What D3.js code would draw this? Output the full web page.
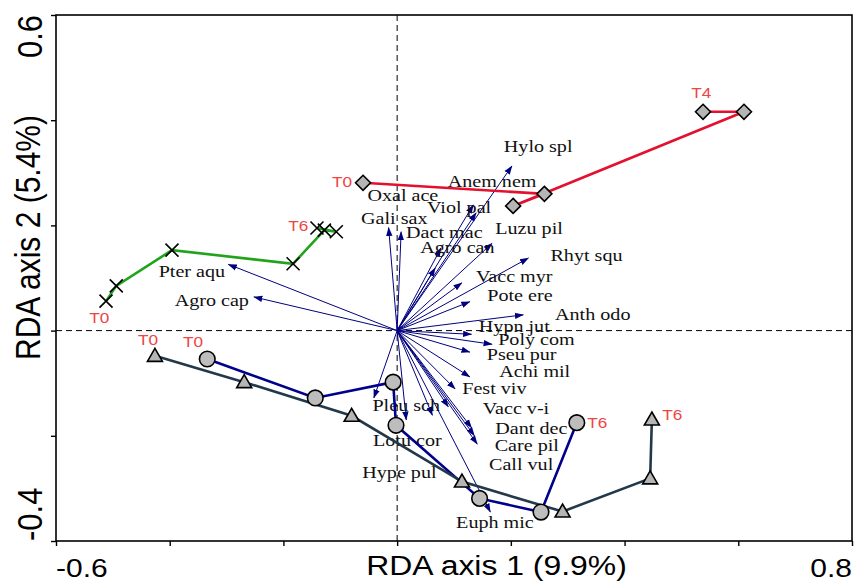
<!DOCTYPE html>
<html>
<head>
<meta charset="utf-8">
<script src="https://cdn.jsdelivr.net/npm/d3@7"></script>
<style>
  html, body { margin: 0; padding: 0; background: #ffffff; }
  svg { display: block; }
</style>
</head>
<body>
<div id="chart"></div>
<script>
// RDA scores (axis 1, axis 2)
const redTrack = [[-0.060, 0.281], [0.259, 0.260], [0.204, 0.237], [0.610, 0.416], [0.538, 0.416]];
const greenTrack = [[-0.512, 0.056], [-0.494, 0.085], [-0.396, 0.153], [-0.183, 0.127], [-0.128, 0.191], [-0.107, 0.188], [-0.141, 0.195]];
const blueTrack = [[-0.334, -0.054], [-0.144, -0.128], [-0.007, -0.098], [-0.002, -0.180], [0.145, -0.319], [0.253, -0.345], [0.316, -0.175]];
const slateTrack = [[-0.426, -0.048], [-0.269, -0.098], [-0.080, -0.162], [0.114, -0.287], [0.291, -0.344], [0.445, -0.281], [0.448, -0.169]];

// species arrows: tip (x, y) and label centre (lx, ly)
const speciesNames = ["Hylo spl", "Anem nem", "Viol pal", "Oxal ace", "Agro can", "Gali sax", "Dact mac", "Luzu pil",
  "Rhyt squ", "Vacc myr", "Pote ere", "Anth odo", "Hypn jut", "Poly com", "Pseu pur", "Achi mil", "Fest viv",
  "Vacc v-i", "Dant dec", "Care pil", "Call vul", "Euph mic", "Hype pul", "Lotu cor", "Pleu sch", "Pter aqu", "Agro cap"];
const speciesTips = [[0.202, 0.313], [0.134, 0.239], [0.139, 0.224], [0.077, 0.157], [0.067, 0.119], [-0.015, 0.196],
  [0.007, 0.188], [0.167, 0.166], [0.231, 0.138], [0.114, 0.091], [0.128, 0.055], [0.222, 0.030], [0.131, -0.007],
  [0.167, -0.026], [0.128, -0.041], [0.128, -0.088], [0.102, -0.111], [0.090, -0.145], [0.131, -0.185], [0.141, -0.216],
  [0.136, -0.200], [0.164, -0.345], [0.062, -0.161], [0.016, -0.170], [-0.041, -0.128], [-0.297, 0.126], [-0.252, 0.064]];
const speciesLabelPos = [[0.248, 0.351], [0.167, 0.284], [0.109, 0.235], [0.010, 0.258], [0.106, 0.159], [-0.005, 0.214],
  [0.083, 0.188], [0.232, 0.195], [0.333, 0.144], [0.206, 0.104], [0.216, 0.068], [0.344, 0.032], [0.206, 0.009],
  [0.245, -0.016], [0.219, -0.045], [0.242, -0.077], [0.171, -0.109], [0.209, -0.147], [0.236, -0.186], [0.228, -0.218],
  [0.218, -0.254], [0.172, -0.364], [0.004, -0.269], [0.018, -0.208], [0.016, -0.141], [-0.361, 0.113], [-0.326, 0.058]];

// time-step labels at the ends of each track
const timeLabels = [
  { text: "T0", x: -0.097, y: 0.283 }, { text: "T4", x: 0.535, y: 0.452 },
  { text: "T0", x: -0.524, y: 0.024 }, { text: "T6", x: -0.174, y: 0.199 },
  { text: "T0", x: -0.359, y: -0.020 }, { text: "T6", x: 0.352, y: -0.174 },
  { text: "T0", x: -0.438, y: -0.016 }, { text: "T6", x: 0.484, y: -0.159 }
];

const xTicks = [-0.6, -0.4, -0.2, 0, 0.2, 0.4, 0.6, 0.8];
const yTicks = [-0.4, -0.2, 0, 0.2, 0.4, 0.6];
const xTickLabels = ["-0.6", "0.8"];
const yTickLabels = ["-0.4", "0.6"];
const xTitle = "RDA axis 1 (9.9%)";
const yTitle = "RDA axis 2 (5.4%)";

const width = 854;
const height = 582;
const margin = { top: 15, right: 2, bottom: 41, left: 56 };
// the source figure is stretched sideways, so text is widened a bit
const stretch = 1.15;

const svg = d3.select("#chart").append("svg")
  .attr("width", width)
  .attr("height", height);

const x = d3.scaleLinear().domain([-0.6, 0.8]).range([margin.left, width - margin.right]);
const y = d3.scaleLinear().domain([-0.4, 0.6]).range([height - margin.bottom, margin.top]);

svg.append("defs").append("marker")
  .attr("id", "arrow")
  .attr("markerUnits", "userSpaceOnUse")
  .attr("viewBox", "0 -4 9 8")
  .attr("refX", 8.5)
  .attr("refY", 0)
  .attr("markerWidth", 9)
  .attr("markerHeight", 8)
  .attr("orient", "auto")
  .append("path")
  .attr("d", "M0,-3.2L9,0L0,3.2Z")
  .attr("fill", "#00007f");

// zero lines
svg.append("line")
  .attr("x1", x(0)).attr("x2", x(0))
  .attr("y1", y(0.6)).attr("y2", y(-0.4))
  .attr("stroke", "#000").attr("stroke-width", 1).attr("stroke-dasharray", "6,4");
svg.append("line")
  .attr("x1", x(-0.6)).attr("x2", x(0.8))
  .attr("y1", y(0)).attr("y2", y(0))
  .attr("stroke", "#000").attr("stroke-width", 1).attr("stroke-dasharray", "6,4");

// species arrows
svg.append("g").selectAll("line")
  .data(speciesTips)
  .join("line")
  .attr("x1", x(0))
  .attr("y1", y(0))
  .attr("x2", (d) => x(d[0]))
  .attr("y2", (d) => y(d[1]))
  .attr("stroke", "#00007f")
  .attr("stroke-width", 1)
  .attr("marker-end", "url(#arrow)");

svg.append("g").selectAll("text")
  .data(speciesNames)
  .join("text")
  .attr("transform", (d, i) =>
    `translate(${x(speciesLabelPos[i][0])},${y(speciesLabelPos[i][1]) + 6}) scale(${stretch},1)`)
  .attr("text-anchor", "middle")
  .attr("font-family", "'Liberation Serif', 'DejaVu Serif', serif")
  .attr("font-size", 17.5)
  .attr("fill", "#111")
  .text((d) => d);

// trajectories
const line = d3.line().x((d) => x(d[0])).y((d) => y(d[1]));
const tracks = [
  { data: redTrack, color: "#e3102f", symbol: "diamond" },
  { data: greenTrack, color: "#21a41c", symbol: "cross" },
  { data: blueTrack, color: "#00008c", symbol: "circle" },
  { data: slateTrack, color: "#23394a", symbol: "triangle" }
];

tracks.forEach((track) => {
  svg.append("path")
    .datum(track.data)
    .attr("d", line)
    .attr("fill", "none")
    .attr("stroke", track.color)
    .attr("stroke-width", 2.6);
});

tracks.forEach((track) => {
  const g = svg.append("g");
  track.data.forEach((d) => {
    const cx = x(d[0]);
    const cy = y(d[1]);
    if (track.symbol === "circle") {
      g.append("circle").attr("cx", cx).attr("cy", cy).attr("r", 7.8)
        .attr("fill", "#bdbdbd").attr("stroke", "#000").attr("stroke-width", 1.6);
    } else if (track.symbol === "diamond") {
      g.append("path").attr("d", `M${cx},${cy - 7.5}L${cx + 7.5},${cy}L${cx},${cy + 7.5}L${cx - 7.5},${cy}Z`)
        .attr("fill", "#b5b5b5").attr("stroke", "#000").attr("stroke-width", 1.6);
    } else if (track.symbol === "triangle") {
      g.append("path").attr("d", `M${cx},${cy - 7.5}L${cx + 7.5},${cy + 5.5}L${cx - 7.5},${cy + 5.5}Z`)
        .attr("fill", "#b5b5b5").attr("stroke", "#000").attr("stroke-width", 1.6);
    } else {
      g.append("path").attr("d", `M${cx - 6.5},${cy - 6.5}L${cx + 6.5},${cy + 6.5}M${cx - 6.5},${cy + 6.5}L${cx + 6.5},${cy - 6.5}`)
        .attr("fill", "none").attr("stroke", "#000").attr("stroke-width", 1.6);
    }
  });
});

svg.append("g").selectAll("text")
  .data(timeLabels)
  .join("text")
  .attr("transform", (d) => `translate(${x(d.x)},${y(d.y) + 5.5}) scale(${stretch},1)`)
  .attr("text-anchor", "middle")
  .attr("font-family", "'Liberation Sans', Arial, sans-serif")
  .attr("font-size", 15)
  .attr("fill", "#f04444")
  .text((d) => d.text);

// frame and axes
svg.append("rect")
  .attr("x", x(-0.6)).attr("y", y(0.6))
  .attr("width", x(0.8) - x(-0.6)).attr("height", y(-0.4) - y(0.6))
  .attr("fill", "none").attr("stroke", "#000").attr("stroke-width", 1.6);

svg.append("g")
  .attr("transform", `translate(0,${y(-0.4)})`)
  .call(d3.axisBottom(x).tickValues(xTicks).tickSize(5).tickFormat(""))
  .call((g) => g.select(".domain").remove())
  .call((g) => g.selectAll("line").attr("stroke", "#000").attr("stroke-width", 1.4));

svg.append("g")
  .attr("transform", `translate(${x(-0.6)},0)`)
  .call(d3.axisLeft(y).tickValues(yTicks).tickSize(5).tickFormat(""))
  .call((g) => g.select(".domain").remove())
  .call((g) => g.selectAll("line").attr("stroke", "#000").attr("stroke-width", 1.4));

const sans = "'Liberation Sans', Arial, sans-serif";

svg.append("text")
  .attr("transform", `translate(${x(-0.6)},577) scale(1.2,1)`)
  .attr("text-anchor", "start")
  .attr("font-family", sans).attr("font-size", 25).attr("fill", "#000")
  .text(xTickLabels[0]);
svg.append("text")
  .attr("transform", `translate(${x(0.8)},577) scale(1.2,1)`)
  .attr("text-anchor", "end")
  .attr("font-family", sans).attr("font-size", 25).attr("fill", "#000")
  .text(xTickLabels[1]);

svg.append("text")
  .attr("transform", `translate(42,${y(-0.4)}) scale(${stretch},1) rotate(-90)`)
  .attr("text-anchor", "start")
  .attr("font-family", sans).attr("font-size", 31).attr("fill", "#000")
  .text(yTickLabels[0]);
svg.append("text")
  .attr("transform", `translate(42,${y(0.6)}) scale(${stretch},1) rotate(-90)`)
  .attr("text-anchor", "end")
  .attr("font-family", sans).attr("font-size", 31).attr("fill", "#000")
  .text(yTickLabels[1]);

svg.append("text")
  .attr("transform", "translate(496.5,575) scale(1.14,1)")
  .attr("text-anchor", "middle")
  .attr("font-family", sans).attr("font-size", 28).attr("fill", "#000")
  .text(xTitle);

svg.append("text")
  .attr("transform", `translate(40,237.5) scale(${stretch},1) rotate(-90)`)
  .attr("text-anchor", "middle")
  .attr("font-family", sans).attr("font-size", 30).attr("fill", "#000")
  .text(yTitle);
</script>
</body>
</html>
